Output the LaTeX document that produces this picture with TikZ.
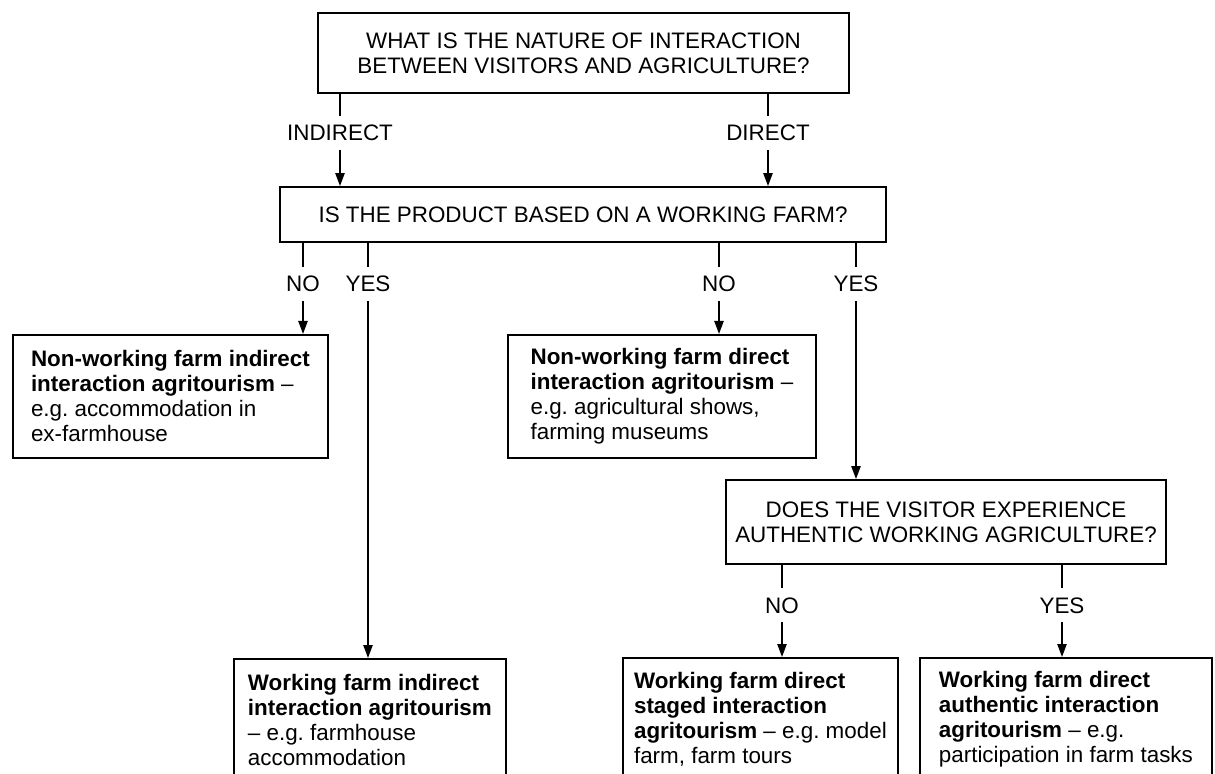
\documentclass[tikz,border=0pt]{standalone}
\usepackage{fontspec}
\setmainfont{Liberation Sans}
\usetikzlibrary{arrows.meta}
\frenchspacing

\begin{document}
\begin{tikzpicture}[
  x=0.5pt, y=-0.5pt,
  question/.style={
    draw, line width=0.9pt, align=center,
    font=\fontsize{11.2}{12.5}\selectfont
  },
  branch/.style={
    inner xsep=2pt, inner ysep=4.25pt,
    text height=8pt, text depth=0pt,
    font=\fontsize{11.2}{12.5}\selectfont
  },
  result/.style={
    draw, line width=0.9pt, align=left, anchor=north west,
    minimum height=61.5pt,
    font=\fontsize{11.2}{12.5}\selectfont
  },
  arr/.style={-{Triangle[length=6.5pt,width=4.6pt]}, line width=0.9pt},
  link/.style={line width=0.9pt}
]
  \useasboundingbox (0,0) rectangle (1215,774);
  \clip (0,0) rectangle (1215,774);

  % questions
  \node[question, minimum width=265.5pt, minimum height=40pt] (qNature) at (583.5,53)
    {WHAT IS THE NATURE OF INTERACTION\\BETWEEN VISITORS AND AGRICULTURE?};
  \node[question, minimum width=303pt, minimum height=27.5pt] (qFarm) at (583,214.5)
    {IS THE PRODUCT BASED ON A WORKING FARM?};
  \node[question, minimum width=220pt, minimum height=42pt] (qAuth) at (946,522)
    {DOES THE VISITOR EXPERIENCE\\AUTHENTIC WORKING AGRICULTURE?};

  % outcomes
  \node[result, minimum width=157.5pt] (rNonInd) at (12,334)
    {\textbf{Non-working farm indirect}\\\textbf{interaction agritourism} --\\e.g. accommodation in\\ex-farmhouse};
  \node[result, minimum width=154pt] (rNonDir) at (507,334)
    {\textbf{Non-working farm direct}\\\textbf{interaction agritourism} --\\e.g. agricultural shows,\\farming museums};
  \node[result, minimum width=136pt] (rWorkInd) at (233,658)
    {\textbf{Working farm indirect}\\\textbf{interaction agritourism}\\-- e.g. farmhouse\\accommodation};
  \node[result, minimum width=137.5pt] (rStaged) at (622,657)
    {\textbf{Working farm direct}\\\textbf{staged interaction}\\\textbf{agritourism} -- e.g. model\\farm, farm tours};
  \node[result, minimum width=146pt] (rAuth) at (919,657)
    {\textbf{Working farm direct}\\\textbf{authentic interaction}\\\textbf{agritourism} -- e.g.\\participation in farm tasks};

  % branch labels
  \node[branch] (bIndirect) at (340,133) {INDIRECT};
  \node[branch] (bDirect) at (768,133) {DIRECT};
  \node[branch] (bNoInd) at (303,284) {NO};
  \node[branch] (bYesInd) at (368,284) {YES};
  \node[branch] (bNoDir) at (719,284) {NO};
  \node[branch] (bYesDir) at (856,284) {YES};
  \node[branch] (bNoAuth) at (782,605) {NO};
  \node[branch] (bYesAuth) at (1062,605) {YES};

  \draw[link] (qNature.south -| bIndirect) -- (bIndirect);
  \draw[arr] (bIndirect) -- (bIndirect |- qFarm.north);
  \draw[link] (qNature.south -| bDirect) -- (bDirect);
  \draw[arr] (bDirect) -- (bDirect |- qFarm.north);

  \draw[link] (qFarm.south -| bNoInd) -- (bNoInd);
  \draw[arr] (bNoInd) -- (bNoInd |- rNonInd.north);
  \draw[link] (qFarm.south -| bYesInd) -- (bYesInd);
  \draw[arr] (bYesInd) -- (bYesInd |- rWorkInd.north);
  \draw[link] (qFarm.south -| bNoDir) -- (bNoDir);
  \draw[arr] (bNoDir) -- (bNoDir |- rNonDir.north);
  \draw[link] (qFarm.south -| bYesDir) -- (bYesDir);
  \draw[arr] (bYesDir) -- (bYesDir |- qAuth.north);

  \draw[link] (qAuth.south -| bNoAuth) -- (bNoAuth);
  \draw[arr] (bNoAuth) -- (bNoAuth |- rStaged.north);
  \draw[link] (qAuth.south -| bYesAuth) -- (bYesAuth);
  \draw[arr] (bYesAuth) -- (bYesAuth |- rAuth.north);
\end{tikzpicture}
\end{document}
